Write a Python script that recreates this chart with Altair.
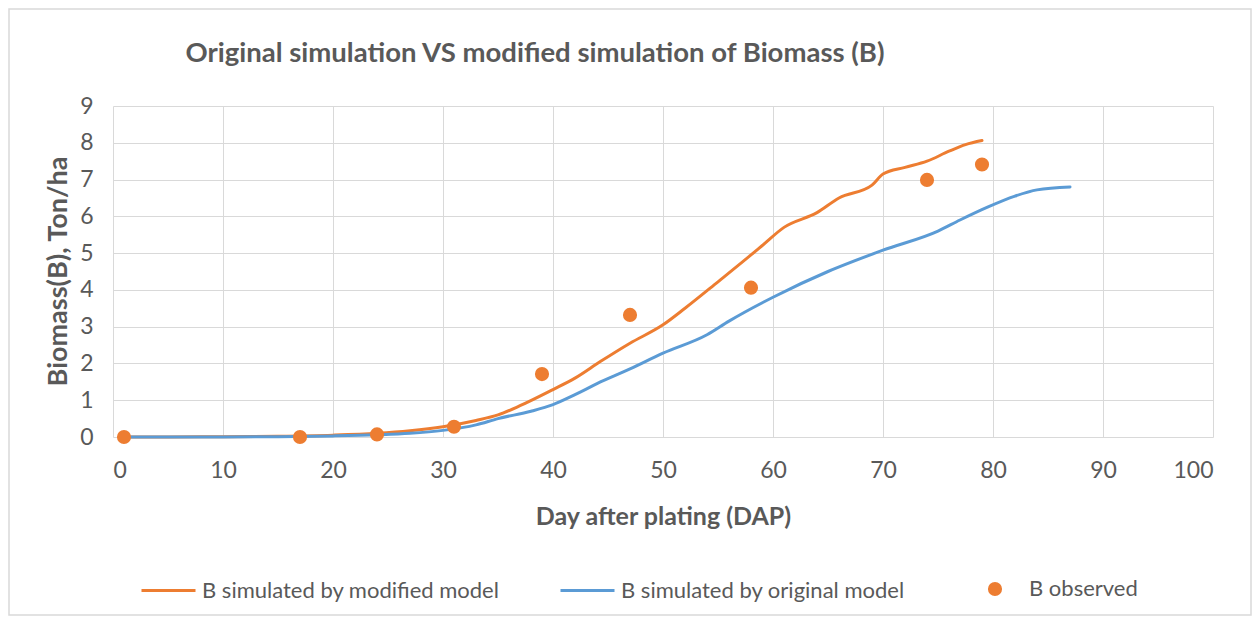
import altair as alt
import pandas as pd

# ---- data ----
mod_day = [1, 5, 10, 15, 20, 24, 27, 30, 33, 35, 37, 40, 42, 44.3, 47, 50, 52, 55, 58, 59, 61, 64, 66, 69, 70, 72, 74, 76, 77.5, 79]
mod_b = [0.0, 0.0, 0.01, 0.02, 0.05, 0.1, 0.17, 0.28, 0.45, 0.6, 0.85, 1.29, 1.6, 2.05, 2.55, 3.05, 3.5, 4.22, 4.95, 5.2, 5.7, 6.1, 6.5, 6.85, 7.15, 7.33, 7.5, 7.77, 7.95, 8.06]

orig_day = [1, 10, 15, 20, 24, 27, 30, 33, 35, 38, 40, 42, 44, 47, 50, 54, 56, 60, 65, 70, 75, 77, 79.5, 82, 84, 87]
orig_b = [0.0, 0.0, 0.01, 0.03, 0.06, 0.1, 0.18, 0.33, 0.5, 0.7, 0.88, 1.15, 1.45, 1.85, 2.28, 2.78, 3.15, 3.8, 4.5, 5.08, 5.6, 5.9, 6.25, 6.55, 6.72, 6.8]

obs_day = [1, 17, 24, 31, 39, 47, 58, 74, 79]
obs_b = [0.0, 0.0, 0.07, 0.28, 1.71, 3.32, 4.06, 6.99, 7.41]

series_names = ["B simulated by modified model", "B  simulated by original model", "B observed"]
colors = ["#ED7D31", "#5B9BD5", "#ED7D31"]
x_ticks = list(range(0, 101, 10))
y_ticks = list(range(0, 10, 1))

title_text = "Original simulation VS modified simulation of Biomass (B)"
x_title = "Day after plating (DAP)"
y_title = "Biomass(B), Ton/ha"

FONT = "Lato"
TXT = "#595959"
GRID = "#D9D9D9"

mod_df = pd.DataFrame({"day": mod_day, "b": mod_b, "series": series_names[0]})
orig_df = pd.DataFrame({"day": orig_day, "b": orig_b, "series": series_names[1]})
obs_df = pd.DataFrame({"day": obs_day, "b": obs_b, "series": series_names[2]})

x_axis = alt.Axis(values=x_ticks, title=x_title, grid=True, gridColor=GRID,
                  domain=False, ticks=False, labelFont=FONT, labelFontSize=23,
                  labelColor=TXT, labelPadding=22, titleFont=FONT, titleFontSize=25,
                  titleFontWeight="bold", titleColor=TXT, titleY=79,
                  titleBaseline="middle")
y_axis = alt.Axis(values=y_ticks, title=y_title, grid=True, gridColor=GRID,
                  domain=False, ticks=False, labelFont=FONT, labelFontSize=23,
                  labelColor=TXT, labelPadding=20, titleFont=FONT, titleFontSize=27,
                  titleFontWeight="bold", titleColor=TXT, titleX=-55, titleY=165,
                  titleBaseline="middle", titleAlign="center", titleAngle=270)

def xe():
    return alt.X("day:Q", scale=alt.Scale(domain=[0, 100], nice=False), axis=x_axis)

def ye():
    return alt.Y("b:Q", scale=alt.Scale(domain=[0, 9], nice=False), axis=y_axis)

def legend_at(x, y, stype, ssize, offset):
    return alt.Legend(title=None, orient="none", legendX=x, legendY=y, padding=0,
                      symbolType=stype, symbolSize=ssize, symbolStrokeWidth=3,
                      labelFont=FONT, labelFontSize=22, labelColor=TXT, labelOffset=offset,
                      labelLimit=500)

mod_line = alt.Chart(mod_df).mark_line(strokeWidth=3, interpolate="monotone", strokeCap="round").encode(
    x=xe(), y=ye(),
    color=alt.Color("series:N", scale=alt.Scale(domain=[series_names[0]], range=[colors[0]]),
                    legend=legend_at(27, 456, "stroke", 2916, 5)))

orig_line = alt.Chart(orig_df).mark_line(strokeWidth=3, interpolate="monotone", strokeCap="round").encode(
    x=xe(), y=ye(),
    color=alt.Color("series:N", scale=alt.Scale(domain=[series_names[1]], range=[colors[1]]),
                    legend=legend_at(446, 456, "stroke", 2916, 5)))

obs_pts = alt.Chart(obs_df).mark_circle(size=200, opacity=1).encode(
    x=xe(), y=ye(),
    color=alt.Color("series:N", scale=alt.Scale(domain=[series_names[2]], range=[colors[2]]),
                    legend=legend_at(871, 472, "circle", 200, 23)))

one = pd.DataFrame({"k": [0]})
frame = alt.Chart(one).mark_rect(fill=None, stroke=GRID, strokeWidth=1.5).encode(
    x=alt.value(-104), x2=alt.value(1138), y=alt.value(-97), y2=alt.value(509))
title = alt.Chart(one).mark_text(text=title_text, font=FONT, fontSize=27.5, fontWeight="bold",
                                 color=TXT, align="center", baseline="alphabetic").encode(
    x=alt.value(422), y=alt.value(-44))

chart = alt.layer(frame, title, mod_line, orig_line, obs_pts).resolve_scale(
    color="independent").resolve_legend(color="independent").properties(
    width=1100, height=331,
    autosize=alt.AutoSizeParams(type="none"),
    padding={"left": 105, "top": 98, "right": 39, "bottom": 180},
    background="white",
).configure_view(stroke=None)

chart.save("out.html", embed_options={"renderer": "svg", "actions": False})
